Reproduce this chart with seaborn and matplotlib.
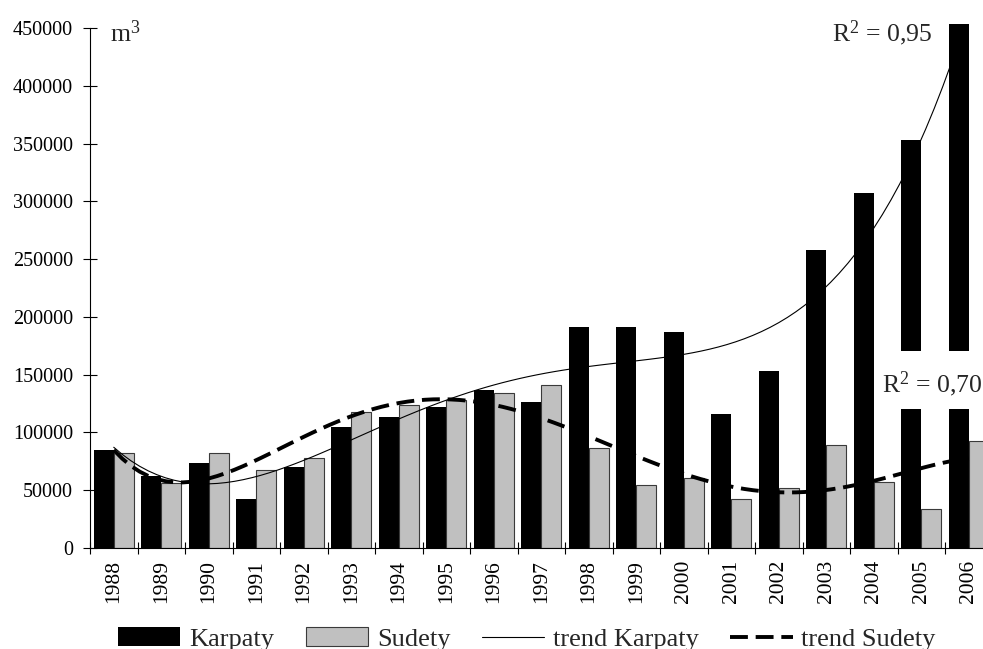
import numpy as np
import pandas as pd
import matplotlib
matplotlib.use("Agg")
import matplotlib.pyplot as plt
import seaborn as sns
from matplotlib.patches import Rectangle

# ---------------- data ----------------
years = [str(y) for y in range(1988, 2007)]
karpaty = [85000, 62000, 73500, 42000, 70500, 104500, 113500, 122000, 137000, 126500,
           191500, 191500, 187000, 116000, 153000, 258000, 307500, 353000, 453500]
sudety = [82000, 56000, 82000, 67500, 77500, 117500, 123500, 128000, 134000, 141000,
          86500, 54500, 61000, 42000, 51500, 89500, 57000, 33500, 92500]
series_names = ["Karpaty", "Sudety"]
trend_labels = ["trend Karpaty", "trend Sudety"]
trend_orders = [4, 6]   # polynomial trend degree per series
r2_labels = [r"$\mathrm{R}^{2}$ = 0,95", r"$\mathrm{R}^{2}$ = 0,70"]
unit_label = r"$\mathrm{m}^{3}$"
y_ticks = list(range(0, 450001, 50000))

# ---------------- style ----------------
sns.set_theme(style="white")
plt.rcParams["font.family"] = ["Liberation Serif", "DejaVu Serif"]
plt.rcParams["mathtext.fontset"] = "custom"
plt.rcParams["mathtext.rm"] = "Liberation Serif"
plt.rcParams["mathtext.it"] = "Liberation Serif:italic"
plt.rcParams["mathtext.bf"] = "Liberation Serif:bold"

df = pd.DataFrame({
    "year": years * 2,
    "value": karpaty + sudety,
    "region": [series_names[0]] * len(years) + [series_names[1]] * len(years),
})

fig = plt.figure(figsize=(9.83, 6.49), dpi=100)
W, H = 983, 649
ax = fig.add_axes([90 / W, 1 - 548 / H, 902.5 / W, 520 / H])

sns.barplot(data=df, x="year", y="value", hue="region", order=years,
            hue_order=series_names,
            palette={series_names[0]: "black", series_names[1]: "#c0c0c0"},
            width=0.84, saturation=1, errorbar=None, legend=False, ax=ax)

for p in ax.containers[0].patches:
    p.set_edgecolor("black")
    p.set_linewidth(0)
    p.set_clip_on(False)
for p in ax.containers[1].patches:
    p.set_edgecolor("#3a3a3a")
    p.set_linewidth(0.8)

xs = np.arange(len(years))
sns.regplot(x=xs, y=np.array(karpaty, dtype=float), order=trend_orders[0], ci=None,
            scatter=False, truncate=True, ax=ax,
            line_kws=dict(color="black", lw=0.8, zorder=4))
sns.regplot(x=xs, y=np.array(sudety, dtype=float), order=trend_orders[1], ci=None,
            scatter=False, truncate=True, ax=ax,
            line_kws=dict(color="black", lw=2.8, dashes=(4.6, 2.0), zorder=4))

ax.set_xlim(-0.5, len(years) - 0.5)
ax.set_ylim(0, 450000)
ax.set_xlabel("")
ax.set_ylabel("")

# axes, ticks
for s in ["top", "right"]:
    ax.spines[s].set_visible(False)
for s in ["left", "bottom"]:
    ax.spines[s].set_color("black")
    ax.spines[s].set_linewidth(0.8)

ax.set_yticks(y_ticks)
ax.set_yticklabels([str(v) for v in y_ticks])
ax.tick_params(axis="y", direction="inout", length=10, width=0.8, pad=7.2,
               labelsize=14.5, colors="black", left=True)
ax.set_xticks(xs)
ax.set_xticklabels(years, rotation=90)
ax.tick_params(axis="x", which="major", length=0, pad=8.6, labelsize=15.5,
               colors="black")
ax.set_xticks(np.arange(-0.5, len(years), 1.0), minor=True)
ax.tick_params(axis="x", which="minor", direction="inout", length=9, width=0.8,
               color="black", bottom=True)

# labels
fig.text(110 / W, 1 - 42 / H, unit_label, fontsize=18.5, ha="left", va="baseline")
ax.text(15.12, 438800, r2_labels[0], fontsize=18.5, ha="left", va="baseline", zorder=6)
ax.add_patch(Rectangle((16.05, 120300), 3.0, 50200, transform=ax.transData,
                       facecolor="white", edgecolor="none", zorder=5, clip_on=False))
ax.text(16.17, 135000, r2_labels[1], fontsize=18.5, ha="left", va="baseline",
        zorder=6, clip_on=False)

# legend
handles = [ax.containers[0].patches[0], ax.containers[1].patches[0],
           ax.lines[0], ax.lines[1]]
labels = series_names + trend_labels
fig.legend(handles, labels, loc="center", bbox_to_anchor=(527 / W, 1 - 639 / H),
           ncol=4, frameon=False, fontsize=19, handlelength=2.35,
           handletextpad=0.34, columnspacing=1.2, borderpad=0, borderaxespad=0)

fig.savefig("out.png", dpi=100)
